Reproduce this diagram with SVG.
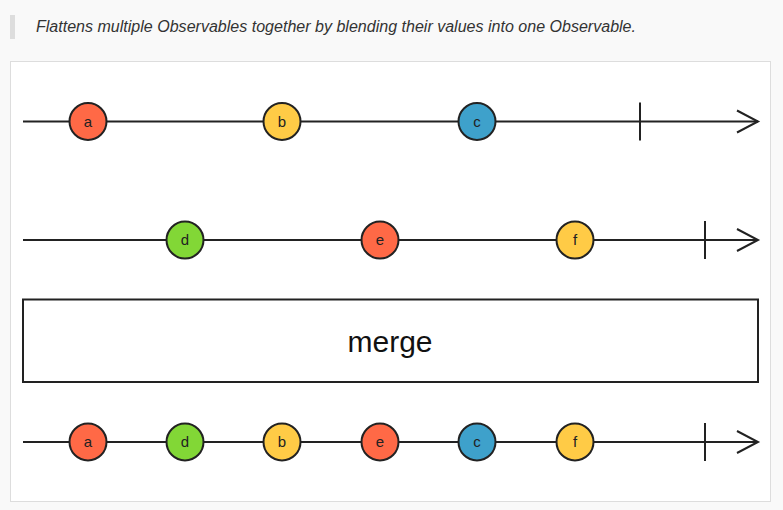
<svg xmlns="http://www.w3.org/2000/svg" width="783" height="510" viewBox="0 0 783 510">
<style>
.bg{fill:#f9f9f9}
.panel{fill:#fff;stroke:#dddddd;stroke-width:1}
.line{stroke:#222;stroke-width:2;fill:none}
.node circle{stroke:#222;stroke-width:2}
.node text{font-family:"Liberation Sans",Arial,sans-serif;font-size:15px;fill:#222;text-anchor:middle}
.red{fill:#ff6946}
.yellow{fill:#ffcb46}
.blue{fill:#3ea1cb}
.green{fill:#82d736}
.caption{font-family:"Liberation Sans",Arial,sans-serif;font-style:italic;font-size:16px;fill:#333}
.op{font-family:"Liberation Sans",Arial,sans-serif;font-size:30px;fill:#111;text-anchor:middle}
</style>
<rect class="bg" x="0" y="0" width="783" height="510"/>
<rect x="10" y="15" width="5" height="24" fill="#dddddd"/>
<text class="caption" x="36" y="32" textLength="600" lengthAdjust="spacingAndGlyphs">Flattens multiple Observables together by blending their values into one Observable.</text>
<rect class="panel" x="10.5" y="61.5" width="760" height="440"/>
<g id="connectors">
  <line class="line" x1="23" y1="121.5" x2="758" y2="121.5"/>
  <polyline class="line" points="737,110.5 758,121.5 737,132.5"/>
  <line class="line" x1="640" y1="102.5" x2="640" y2="140.5"/>
  <line class="line" x1="23" y1="240" x2="758" y2="240"/>
  <polyline class="line" points="737,229 758,240 737,251"/>
  <line class="line" x1="705" y1="221" x2="705" y2="259"/>
  <line class="line" x1="23" y1="442" x2="758" y2="442"/>
  <polyline class="line" points="737,431 758,442 737,453"/>
  <line class="line" x1="705" y1="423" x2="705" y2="461"/>
</g>
<g id="merge">
  <rect x="23" y="299.5" width="735" height="82.5" fill="#fff" stroke="#222" stroke-width="2"/>
  <text class="op" x="390" y="351.5">merge</text>
</g>
<g id="n1a" class="node"><circle class="red" cx="88" cy="121.5" r="18.5"/><text x="88" y="126.5">a</text></g>
<g id="n1b" class="node"><circle class="yellow" cx="282" cy="121.5" r="18.5"/><text x="282" y="126.5">b</text></g>
<g id="n1c" class="node"><circle class="blue" cx="477" cy="121.5" r="18.5"/><text x="477" y="126.5">c</text></g>
<g id="n2d" class="node"><circle class="green" cx="185" cy="240" r="18.5"/><text x="185" y="245">d</text></g>
<g id="n2e" class="node"><circle class="red" cx="380" cy="240" r="18.5"/><text x="380" y="245">e</text></g>
<g id="n2f" class="node"><circle class="yellow" cx="575" cy="240" r="18.5"/><text x="575" y="245">f</text></g>
<g id="n3a" class="node"><circle class="red" cx="88" cy="442" r="18.5"/><text x="88" y="447">a</text></g>
<g id="n3d" class="node"><circle class="green" cx="185" cy="442" r="18.5"/><text x="185" y="447">d</text></g>
<g id="n3b" class="node"><circle class="yellow" cx="282" cy="442" r="18.5"/><text x="282" y="447">b</text></g>
<g id="n3e" class="node"><circle class="red" cx="380" cy="442" r="18.5"/><text x="380" y="447">e</text></g>
<g id="n3c" class="node"><circle class="blue" cx="477" cy="442" r="18.5"/><text x="477" y="447">c</text></g>
<g id="n3f" class="node"><circle class="yellow" cx="575" cy="442" r="18.5"/><text x="575" y="447">f</text></g>
</svg>
